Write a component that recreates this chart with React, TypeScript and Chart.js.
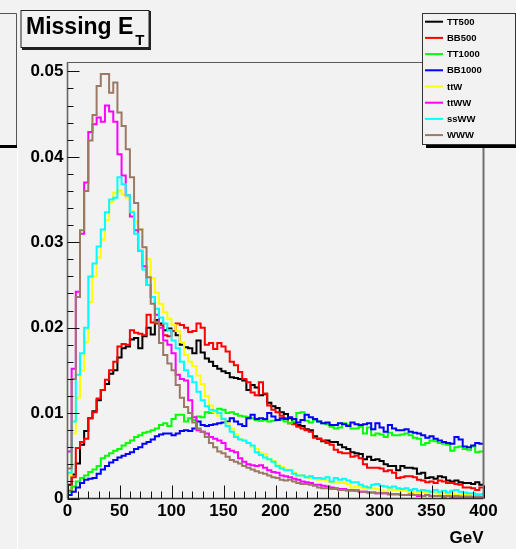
import React, { useEffect, useRef } from 'react';
import { Chart, registerables } from 'chart.js';

Chart.register(...registerables);

// ---------- data ----------
const titleMain = 'Missing E';
const titleSub = 'T';
const xUnitLabel = 'GeV';
const binWidth = 4; // GeV per bin, 100 bins from 0 to 400
const xTickLabels = ['0', '50', '100', '150', '200', '250', '300', '350', '400'];
const yTickLabels = ['0', '0.01', '0.02', '0.03', '0.04', '0.05'];
const seriesNames = ['TT500', 'BB500', 'TT1000', 'BB1000', 'ttW', 'ttWW', 'ssWW', 'WWW'];
const seriesColors = ['#000000', '#ff0000', '#00ff00', '#0000ff', '#ffff00', '#ff00ff', '#00ffff', '#9c7866'];

const TT500 = [
  0.0016, 0.0028, 0.0041, 0.0063, 0.0079, 0.0094, 0.0102, 0.0115, 0.0127, 0.0134,
  0.0146, 0.0150, 0.0165, 0.0176, 0.0178, 0.0186, 0.0188, 0.0176, 0.0190, 0.0200,
  0.0192, 0.0209, 0.0205, 0.0197, 0.0199, 0.0196, 0.0191, 0.0180, 0.0177, 0.0176,
  0.0170, 0.0185, 0.0171, 0.0164, 0.0160, 0.0155, 0.0152, 0.0149, 0.0147, 0.0142,
  0.0141, 0.0140, 0.0138, 0.0127, 0.0133, 0.0130, 0.0121, 0.0122, 0.0112, 0.0108,
  0.0106, 0.0101, 0.0099, 0.0094, 0.0088, 0.0086, 0.0085, 0.0081, 0.0080, 0.0073,
  0.0070, 0.0067, 0.0068, 0.0066, 0.0066, 0.0063, 0.0060, 0.0058, 0.0054, 0.0053,
  0.0052, 0.0046, 0.0049, 0.0045, 0.0046, 0.0044, 0.0040, 0.0038, 0.0038, 0.0033,
  0.0038, 0.0036, 0.0036, 0.0035, 0.0029, 0.0030, 0.0024, 0.0025, 0.0023, 0.0026,
  0.0025, 0.0021, 0.0020, 0.0021, 0.0019, 0.0018, 0.0018, 0.0017, 0.0019, 0.0016,
];

const BB500 = [
  0.0009, 0.0025, 0.0059, 0.0066, 0.0070, 0.0094, 0.0101, 0.0117, 0.0127, 0.0139,
  0.0150, 0.0160, 0.0178, 0.0181, 0.0180, 0.0197, 0.0194, 0.0193, 0.0191, 0.0215,
  0.0206, 0.0205, 0.0203, 0.0191, 0.0190, 0.0196, 0.0205, 0.0203, 0.0200, 0.0195,
  0.0196, 0.0205, 0.0200, 0.0180, 0.0182, 0.0175, 0.0182, 0.0178, 0.0172, 0.0160,
  0.0156, 0.0148, 0.0140, 0.0136, 0.0124, 0.0121, 0.0136, 0.0123, 0.0109, 0.0104,
  0.0101, 0.0097, 0.0094, 0.0088, 0.0087, 0.0084, 0.0082, 0.0080, 0.0078, 0.0071,
  0.0070, 0.0068, 0.0065, 0.0063, 0.0057, 0.0054, 0.0053, 0.0053, 0.0049, 0.0050,
  0.0047, 0.0040, 0.0036, 0.0036, 0.0036, 0.0035, 0.0032, 0.0033, 0.0030, 0.0024,
  0.0025, 0.0026, 0.0026, 0.0025, 0.0022, 0.0021, 0.0019, 0.0020, 0.0018, 0.0021,
  0.0020, 0.0018, 0.0018, 0.0017, 0.0016, 0.0013, 0.0013, 0.0012, 0.0010, 0.0013,
];

const TT1000 = [
  0.0008, 0.0014, 0.0020, 0.0024, 0.0027, 0.0031, 0.0034, 0.0038, 0.0047, 0.0050,
  0.0053, 0.0056, 0.0058, 0.0062, 0.0065, 0.0068, 0.0072, 0.0074, 0.0077, 0.0078,
  0.0080, 0.0082, 0.0086, 0.0088, 0.0085, 0.0093, 0.0098, 0.0098, 0.0090, 0.0094,
  0.0092, 0.0096, 0.0095, 0.0101, 0.0100, 0.0102, 0.0105, 0.0104, 0.0100, 0.0101,
  0.0099, 0.0097, 0.0096, 0.0095, 0.0094, 0.0092, 0.0091, 0.0092, 0.0090, 0.0091,
  0.0092, 0.0092, 0.0090, 0.0088, 0.0090, 0.0100, 0.0101, 0.0091, 0.0089, 0.0092,
  0.0090, 0.0088, 0.0087, 0.0084, 0.0082, 0.0083, 0.0088, 0.0086, 0.0082, 0.0082,
  0.0084, 0.0076, 0.0083, 0.0074, 0.0076, 0.0075, 0.0072, 0.0077, 0.0074, 0.0074,
  0.0075, 0.0076, 0.0074, 0.0071, 0.0070, 0.0063, 0.0065, 0.0068, 0.0067, 0.0065,
  0.0064, 0.0063, 0.0056, 0.0060, 0.0061, 0.0058, 0.0057, 0.0061, 0.0054, 0.0055,
];

const BB1000 = [
  0.0004, 0.0008, 0.0013, 0.0018, 0.0022, 0.0023, 0.0024, 0.0029, 0.0034, 0.0038,
  0.0042, 0.0045, 0.0048, 0.0050, 0.0052, 0.0054, 0.0058, 0.0060, 0.0064, 0.0066,
  0.0069, 0.0073, 0.0075, 0.0076, 0.0076, 0.0074, 0.0076, 0.0079, 0.0080, 0.0079,
  0.0082, 0.0090, 0.0086, 0.0085, 0.0086, 0.0087, 0.0088, 0.0089, 0.0090, 0.0094,
  0.0090, 0.0087, 0.0085, 0.0094, 0.0098, 0.0093, 0.0094, 0.0093, 0.0100, 0.0096,
  0.0092, 0.0094, 0.0093, 0.0095, 0.0093, 0.0089, 0.0092, 0.0098, 0.0095, 0.0093,
  0.0090, 0.0088, 0.0089, 0.0086, 0.0086, 0.0088, 0.0087, 0.0085, 0.0089, 0.0087,
  0.0086, 0.0087, 0.0088, 0.0081, 0.0088, 0.0083, 0.0078, 0.0086, 0.0082, 0.0080,
  0.0080, 0.0081, 0.0078, 0.0077, 0.0076, 0.0074, 0.0071, 0.0073, 0.0070, 0.0068,
  0.0066, 0.0065, 0.0064, 0.0072, 0.0069, 0.0061, 0.0060, 0.0062, 0.0065, 0.0064,
];

const ttW = [
  0.0027, 0.0076, 0.0118, 0.0150, 0.0183, 0.0230, 0.0260, 0.0282, 0.0303, 0.0326,
  0.0347, 0.0358, 0.0361, 0.0356, 0.0352, 0.0336, 0.0324, 0.0315, 0.0294, 0.0280,
  0.0258, 0.0241, 0.0228, 0.0218, 0.0210, 0.0203, 0.0196, 0.0183, 0.0168, 0.0160,
  0.0155, 0.0144, 0.0134, 0.0120, 0.0109, 0.0101, 0.0097, 0.0094, 0.0088, 0.0082,
  0.0075, 0.0070, 0.0068, 0.0065, 0.0060, 0.0058, 0.0053, 0.0052, 0.0046, 0.0044,
  0.0039, 0.0037, 0.0034, 0.0033, 0.0030, 0.0027, 0.0027, 0.0025, 0.0024, 0.0024,
  0.0022, 0.0022, 0.0021, 0.0019, 0.0019, 0.0018, 0.0018, 0.0017, 0.0013, 0.0014,
  0.0013, 0.0012, 0.0013, 0.0012, 0.0011, 0.0009, 0.0008, 0.0011, 0.0010, 0.0010,
  0.0009, 0.0009, 0.0008, 0.0007, 0.0007, 0.0008, 0.0006, 0.0007, 0.0006, 0.0005,
  0.0006, 0.0005, 0.0006, 0.0005, 0.0004, 0.0004, 0.0005, 0.0003, 0.0004, 0.0003,
];

const ttWW = [
  0.0055, 0.0152, 0.0242, 0.0310, 0.0370, 0.0429, 0.0438, 0.0446, 0.0441, 0.0460,
  0.0453, 0.0441, 0.0403, 0.0378, 0.0355, 0.0330, 0.0314, 0.0290, 0.0272, 0.0250,
  0.0236, 0.0215, 0.0200, 0.0185, 0.0180, 0.0170, 0.0145, 0.0140, 0.0138, 0.0115,
  0.0095, 0.0080, 0.0078, 0.0076, 0.0072, 0.0070, 0.0068, 0.0065, 0.0058, 0.0056,
  0.0054, 0.0047, 0.0043, 0.0040, 0.0039, 0.0038, 0.0039, 0.0036, 0.0033, 0.0031,
  0.0030, 0.0027, 0.0026, 0.0025, 0.0023, 0.0022, 0.0020, 0.0019, 0.0018, 0.0016,
  0.0016, 0.0015, 0.0014, 0.0013, 0.0012, 0.0011, 0.0011, 0.0010, 0.0010, 0.0009,
  0.0008, 0.0008, 0.0007, 0.0007, 0.0006, 0.0006, 0.0006, 0.0005, 0.0005, 0.0005,
  0.0004, 0.0004, 0.0004, 0.0004, 0.0003, 0.0003, 0.0004, 0.0003, 0.0003, 0.0003,
  0.0002, 0.0003, 0.0002, 0.0002, 0.0002, 0.0002, 0.0002, 0.0001, 0.0002, 0.0001,
];

const ssWW = [
  0.0030, 0.0090, 0.0145, 0.0170, 0.0200, 0.0260, 0.0275, 0.0295, 0.0315, 0.0335,
  0.0350, 0.0352, 0.0376, 0.0368, 0.0355, 0.0335, 0.0310, 0.0290, 0.0268, 0.0250,
  0.0236, 0.0222, 0.0212, 0.0205, 0.0197, 0.0185, 0.0176, 0.0160, 0.0150, 0.0143,
  0.0136, 0.0125, 0.0115, 0.0108, 0.0104, 0.0103, 0.0100, 0.0093, 0.0085, 0.0078,
  0.0072, 0.0069, 0.0068, 0.0065, 0.0062, 0.0054, 0.0051, 0.0048, 0.0046, 0.0043,
  0.0038, 0.0035, 0.0033, 0.0033, 0.0029, 0.0027, 0.0027, 0.0025, 0.0026, 0.0024,
  0.0024, 0.0023, 0.0025, 0.0020, 0.0024, 0.0022, 0.0023, 0.0021, 0.0019, 0.0019,
  0.0016, 0.0014, 0.0013, 0.0016, 0.0017, 0.0015, 0.0014, 0.0013, 0.0014, 0.0012,
  0.0011, 0.0012, 0.0010, 0.0011, 0.0009, 0.0010, 0.0009, 0.0008, 0.0010, 0.0008,
  0.0009, 0.0007, 0.0009, 0.0010, 0.0008, 0.0007, 0.0006, 0.0006, 0.0005, 0.0005,
];

const WWW = [
  0.0035, 0.0140, 0.0236, 0.0314, 0.0360, 0.0419, 0.0449, 0.0483, 0.0497, 0.0497,
  0.0475, 0.0487, 0.0452, 0.0436, 0.0409, 0.0376, 0.0346, 0.0315, 0.0294, 0.0259,
  0.0228, 0.0207, 0.0182, 0.0168, 0.0158, 0.0150, 0.0133, 0.0118, 0.0107, 0.0100,
  0.0089, 0.0082, 0.0078, 0.0072, 0.0065, 0.0060, 0.0055, 0.0053, 0.0049, 0.0045,
  0.0043, 0.0041, 0.0038, 0.0036, 0.0034, 0.0032, 0.0030, 0.0029, 0.0027, 0.0025,
  0.0024, 0.0022, 0.0021, 0.0022, 0.0020, 0.0018, 0.0017, 0.0017, 0.0016, 0.0015,
  0.0013, 0.0012, 0.0012, 0.0011, 0.0011, 0.0010, 0.0010, 0.0009, 0.0009, 0.0010,
  0.0008, 0.0008, 0.0007, 0.0007, 0.0006, 0.0006, 0.0006, 0.0005, 0.0005, 0.0005,
  0.0004, 0.0004, 0.0005, 0.0004, 0.0004, 0.0003, 0.0004, 0.0003, 0.0003, 0.0003,
  0.0003, 0.0003, 0.0002, 0.0003, 0.0002, 0.0002, 0.0002, 0.0002, 0.0002, 0.0002,
];

const seriesValues = [TT500, BB500, TT1000, BB1000, ttW, ttWW, ssWW, WWW];

// ---------- style ----------
const W = 516;
const H = 549;
const BG = '#f2f2f2';
const FONT = '"Liberation Sans", Arial, Helvetica, sans-serif';
const X_MIN = 0;
const X_MAX = 400;
const Y_MAX = 0.0511;

function histPoints(values: number[]) {
  const pts = values.map((v, i) => ({ x: i * binWidth, y: v }));
  pts.push({ x: values.length * binWidth, y: values[values.length - 1] });
  return pts;
}

const rootDecor = {
  id: 'rootDecor',
  beforeDraw(chart: any) {
    const { ctx } = chart;
    ctx.save();
    ctx.fillStyle = BG;
    ctx.fillRect(0, 0, W, H);
    // remnant of neighbouring pad on the left
    ctx.strokeStyle = '#555555';
    ctx.lineWidth = 1;
    ctx.beginPath();
    ctx.moveTo(0, 13.5);
    ctx.lineTo(16.5, 13.5);
    ctx.lineTo(16.5, 145);
    ctx.stroke();
    ctx.fillStyle = '#000000';
    ctx.fillRect(0, 145, 17, 3);
    ctx.strokeStyle = '#ffffff';
    ctx.beginPath();
    ctx.moveTo(17.5, 148);
    ctx.lineTo(17.5, H);
    ctx.stroke();
    ctx.restore();
  },
  afterDatasetsDraw(chart: any) {
    const { ctx, chartArea } = chart;
    const { left, right, top, bottom } = chartArea;
    const xs = chart.scales.x;
    const ys = chart.scales.y;
    ctx.save();
    // frame
    ctx.strokeStyle = '#5a5a5a';
    ctx.lineWidth = 1;
    ctx.beginPath();
    ctx.moveTo(left, top + 0.5);
    ctx.lineTo(right, top + 0.5);
    ctx.stroke();
    ctx.strokeStyle = '#707070';
    ctx.lineWidth = 2;
    ctx.beginPath();
    ctx.moveTo(right, top);
    ctx.lineTo(right, bottom);
    ctx.stroke();
    // axis lines
    ctx.strokeStyle = '#666666';
    ctx.lineWidth = 1.6;
    ctx.beginPath();
    ctx.moveTo(left, top);
    ctx.lineTo(left, bottom);
    ctx.stroke();
    ctx.strokeStyle = '#333333';
    ctx.lineWidth = 1.3;
    ctx.beginPath();
    ctx.moveTo(left, bottom);
    ctx.lineTo(right, bottom);
    ctx.stroke();
    // ticks (inside)
    ctx.strokeStyle = '#111111';
    ctx.lineWidth = 1;
    ctx.beginPath();
    for (let i = 0; i <= 40; i++) {
      const v = i * 10;
      const px = Math.round(xs.getPixelForValue(v)) + 0.5;
      const len = i % 5 === 0 ? 13 : 7;
      ctx.moveTo(px, bottom);
      ctx.lineTo(px, bottom - len);
    }
    for (let i = 0; i <= 30; i++) {
      const v = i * 0.002;
      if (v > Y_MAX) break;
      const py = Math.round(ys.getPixelForValue(v)) + 0.5;
      const len = i % 5 === 0 ? 12 : 6;
      ctx.moveTo(left, py);
      ctx.lineTo(left + len, py);
    }
    ctx.stroke();
    ctx.restore();
  },
  afterDraw(chart: any) {
    const { ctx, chartArea } = chart;
    ctx.save();
    // title box
    ctx.fillStyle = BG;
    ctx.fillRect(21, 10.5, 128, 37);
    ctx.strokeStyle = '#222222';
    ctx.lineWidth = 1;
    ctx.strokeRect(21, 10.5, 128, 37);
    ctx.lineWidth = 2;
    ctx.beginPath();
    ctx.moveTo(150, 11);
    ctx.lineTo(150, 49);
    ctx.moveTo(22, 49);
    ctx.lineTo(151, 49);
    ctx.stroke();
    ctx.fillStyle = '#000000';
    ctx.textAlign = 'left';
    ctx.textBaseline = 'alphabetic';
    ctx.font = `bold 23px ${FONT}`;
    ctx.fillText(titleMain, 26, 34);
    const wMain = ctx.measureText(titleMain).width;
    ctx.font = `bold 15px ${FONT}`;
    ctx.fillText(titleSub, 26 + wMain + 2, 45);

    // legend
    const lx = 422, ly = 13, lw = 93, lh = 131;
    ctx.fillStyle = BG;
    ctx.fillRect(lx, ly, lw, lh);
    ctx.strokeStyle = '#333333';
    ctx.lineWidth = 1;
    ctx.strokeRect(lx + 0.5, ly + 0.5, lw, lh);
    ctx.fillStyle = '#000000';
    ctx.fillRect(lx + 4, ly + lh + 1, W - lx - 4, 3);
    ctx.font = `bold 9.5px ${FONT}`;
    ctx.textBaseline = 'middle';
    chart.data.datasets.forEach((ds: any, i: number) => {
      const yy = 21.7 + i * 16.2;
      ctx.strokeStyle = ds.borderColor;
      ctx.lineWidth = 2;
      ctx.beginPath();
      ctx.moveTo(425, yy);
      ctx.lineTo(443, yy);
      ctx.stroke();
      ctx.fillStyle = '#000000';
      ctx.fillText(ds.label, 447, yy + 0.5);
    });

    // x unit label
    ctx.font = `bold 17px ${FONT}`;
    ctx.textAlign = 'right';
    ctx.textBaseline = 'alphabetic';
    ctx.fillStyle = '#000000';
    ctx.fillText(xUnitLabel, chartArea.right, 543);
    ctx.restore();
  },
};

export default function App() {
  const ref = useRef<HTMLCanvasElement | null>(null);

  useEffect(() => {
    const canvas = ref.current;
    if (!canvas) return;
    const datasets = seriesNames.map((name, i) => ({
      label: name,
      data: histPoints(seriesValues[i]),
      borderColor: seriesColors[i],
      backgroundColor: seriesColors[i],
      borderWidth: 2,
      pointRadius: 0,
      fill: false,
      stepped: true as any,
      tension: 0,
      order: seriesNames.length - i,
    }));
    const chart = new Chart(canvas, {
      type: 'line',
      data: { datasets },
      plugins: [rootDecor],
      options: {
        animation: false,
        responsive: false,
        devicePixelRatio: 1,
        events: [],
        layout: { padding: { top: 62, right: 32.5, left: 0, bottom: 0 } },
        plugins: { legend: { display: false }, tooltip: { enabled: false }, title: { display: false } },
        scales: {
          x: {
            type: 'linear',
            min: X_MIN,
            max: X_MAX,
            grid: { display: false, drawTicks: false },
            border: { display: false },
            afterFit: (s: any) => { s.height = 50.5; },
            ticks: {
              stepSize: 50,
              includeBounds: false,
              maxRotation: 0,
              autoSkip: false,
              padding: 3,
              color: '#000000',
              font: { family: FONT, size: 17, weight: 'bold' },
              callback: (_v: any, i: number) => xTickLabels[i],
            },
          },
          y: {
            type: 'linear',
            min: 0,
            max: Y_MAX,
            grid: { display: false, drawTicks: false },
            border: { display: false },
            afterFit: (s: any) => { s.width = 67.5; },
            ticks: {
              stepSize: 0.01,
              includeBounds: false,
              autoSkip: false,
              padding: 4,
              color: '#000000',
              font: { family: FONT, size: 17, weight: 'bold' },
              callback: (_v: any, i: number) => yTickLabels[i],
            },
          },
        },
      } as any,
    });
    return () => chart.destroy();
  }, []);

  return (
    <div style={{ position: 'fixed', left: 0, top: 0, width: W, height: H, background: BG }}>
      <canvas ref={ref} width={W} height={H} style={{ display: 'block', width: W, height: H }} />
    </div>
  );
}
